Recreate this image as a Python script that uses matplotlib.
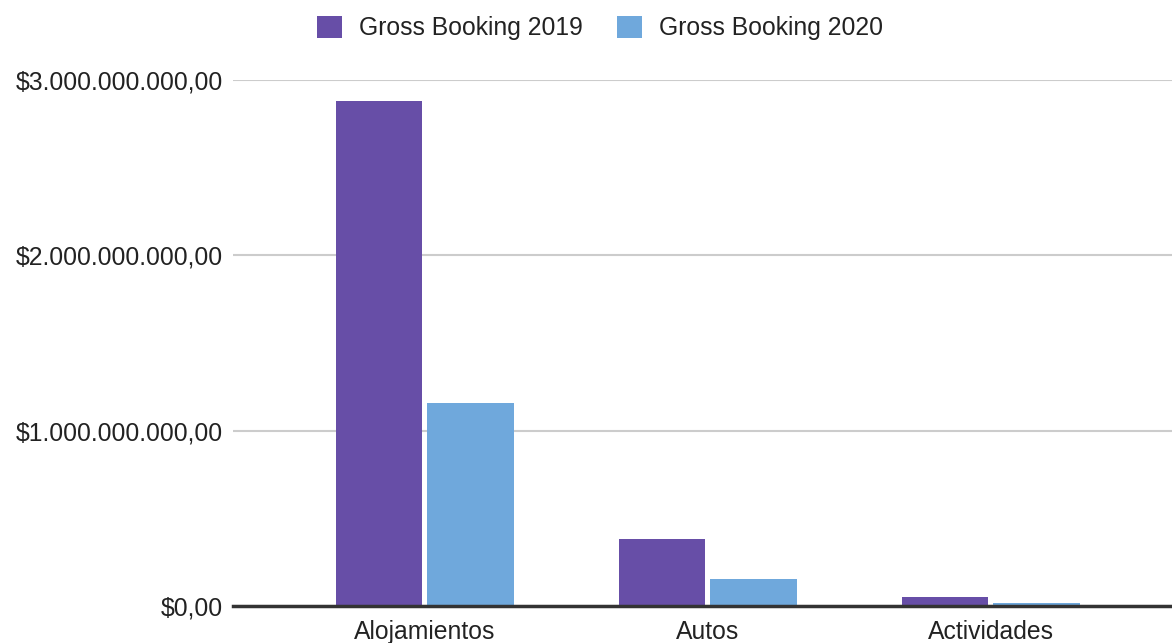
import matplotlib
matplotlib.use("Agg")
import matplotlib.pyplot as plt
from matplotlib.ticker import FuncFormatter, MultipleLocator
import numpy as np

categories = ["Alojamientos", "Autos", "Actividades"]
gross_2019 = [2.88e9, 0.382e9, 0.051e9]
gross_2020 = [1.158e9, 0.154e9, 0.017e9]
series_names = ["Gross Booking 2019", "Gross Booking 2020"]
colors = ["#674ea7", "#6fa8dc"]

plt.rcParams['font.family'] = ['Liberation Sans', 'DejaVu Sans']

fig = plt.figure(figsize=(11.72, 6.43), dpi=100)
ax = fig.add_axes([233/1172, 1 - 606/643, 1 - 233/1172, (606 - 80)/643])

x = np.arange(len(categories))
w = 0.305
off = 0.161
b1 = ax.bar(x - off, gross_2019, width=w, color=colors[0], label=series_names[0], zorder=3)
b2 = ax.bar(x + off, gross_2020, width=w, color=colors[1], label=series_names[1], zorder=3)

ax.set_xlim(-0.678, 2.640)
ax.set_ylim(0, 3e9)
ax.yaxis.set_major_locator(MultipleLocator(1e9))

def fmt(v, pos):
    s = f"{v:,.2f}"
    s = s.replace(",", "X").replace(".", ",").replace("X", ".")
    return "$" + s

ax.yaxis.set_major_formatter(FuncFormatter(fmt))
ax.set_xticks(x)
ax.set_xticklabels(categories)

ax.grid(axis='y', color='#cccccc', linewidth=1.5, zorder=0)
ax.set_axisbelow(True)
for s in ['top', 'right', 'left']:
    ax.spines[s].set_visible(False)
ax.spines['bottom'].set_color('#333333')
ax.spines['bottom'].set_linewidth(2.5)
ax.spines['bottom'].set_zorder(4)
ax.tick_params(axis='both', length=0, labelsize=17.8, labelcolor='#222222')
ax.tick_params(axis='y', pad=7.5)
ax.tick_params(axis='x', pad=10)

fig.legend(handles=[b1, b2], labels=series_names, loc='center',
           bbox_to_anchor=(600/1172, 1 - 28/643), ncol=2, frameon=False,
           fontsize=17.8, handlelength=1.0, handleheight=1.0,
           handletextpad=0.7, columnspacing=1.4, labelcolor='#222222')

fig.savefig("out.png", dpi=100)
